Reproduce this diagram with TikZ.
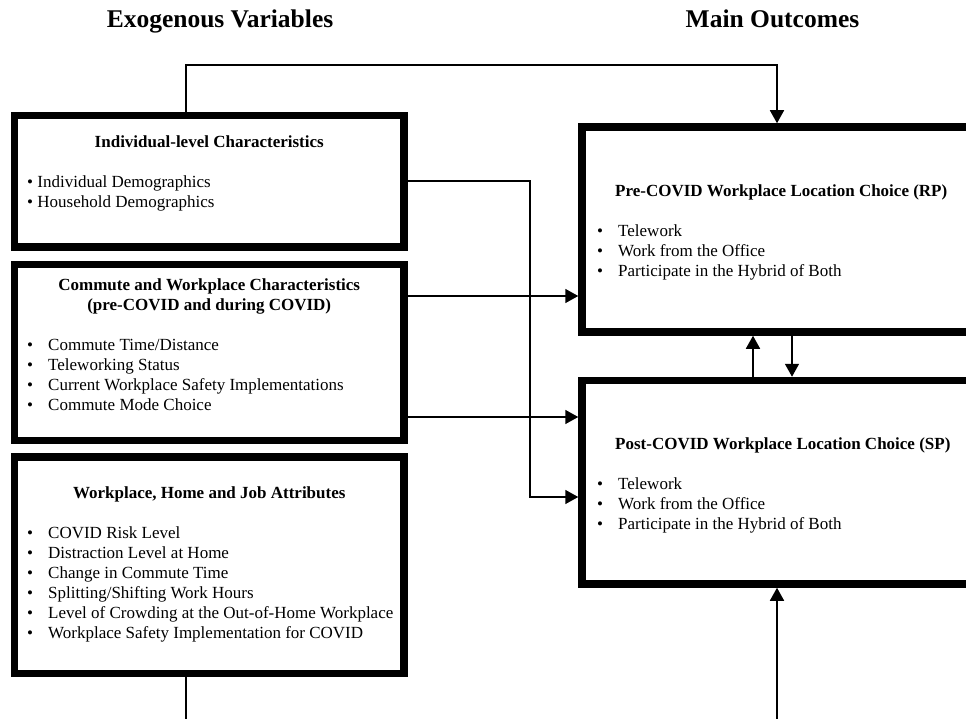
\documentclass[tikz,border=0pt]{standalone}
\usepackage{fontspec}
\setmainfont{Liberation Serif}
\usetikzlibrary{arrows.meta,calc}

\tikzset{
  block/.style={draw, line width=7.5pt, inner sep=0pt, minimum width=389.5pt},
  outcome/.style={draw, line width=7.5pt, inner sep=0pt, minimum width=520pt},
  link/.style={line width=1.6pt},
  arrow/.style={link, -{Triangle[length=13pt,width=14pt]}},
  title/.style={font=\fontsize{25.5}{30}\selectfont\bfseries, inner sep=0pt, anchor=base},
  head/.style={font=\fontsize{17}{20}\selectfont\bfseries, inner sep=0pt, align=center, anchor=north},
  items/.style={font=\fontsize{17}{20}\selectfont, inner sep=0pt, align=left, anchor=north west}
}
\newcommand{\bul}{\makebox[21pt][l]{\textbullet}}

\begin{document}
\begin{tikzpicture}[x=1pt, y=-1pt]

	\useasboundingbox (0,0) rectangle (966,719);
	\clip (0,0) rectangle (966,719);

	% titles

	\node[title] (exotitle) at (220,28) {Exogenous Variables};
	\node[title] (maintitle) at (772.5,28) {Main Outcomes};

	% exogenous blocks

	\node[block, minimum height=131.5pt] (indiv) at (209.25,181.25) {};
	\node[head] (indivhead) at (209.25,133) {\strut Individual-level Characteristics};
	\node[items] (indivlist) at (27,173) {\strut\textbullet\ Individual Demographics\\
		\strut\textbullet\ Household Demographics};

	\node[block, minimum height=176pt] (commute) at (209.25,352.5) {};
	\node[head] (commutehead) at (209.25,276) {\strut Commute and Workplace Characteristics\\
		\strut(pre-COVID and during COVID)};
	\node[items] (commutelist) at (27,336) {\strut\bul Commute Time/Distance\\
		\strut\bul Teleworking Status\\
		\strut\bul Current Workplace Safety Implementations\\
		\strut\bul Commute Mode Choice};

	\node[block, minimum height=216.5pt] (attrib) at (209.25,565.25) {};
	\node[head] (attribhead) at (209.25,484) {\strut Workplace, Home and Job Attributes};
	\node[items] (attriblist) at (27,524) {\strut\bul COVID Risk Level\\
		\strut\bul Distraction Level at Home\\
		\strut\bul Change in Commute Time\\
		\strut\bul Splitting/Shifting Work Hours\\
		\strut\bul Level of Crowding at the Out-of-Home Workplace\\
		\strut\bul Workplace Safety Implementation for COVID};

	% outcome blocks

	\node[outcome, minimum height=205pt] (precovid) at (842,229.5) {};
	\node[head, anchor=north west] (prehead) at (615,182) {\strut Pre-COVID Workplace Location Choice (RP)};
	\node[items] (prelist) at (597,222) {\strut\bul Telework\\
		\strut\bul Work from the Office\\
		\strut\bul Participate in the Hybrid of Both};

	\node[outcome, minimum height=203.5pt] (postcovid) at (842,482.25) {};
	\node[head, anchor=north west] (posthead) at (615,435) {\strut Post-COVID Workplace Location Choice (SP)};
	\node[items] (postlist) at (597,475) {\strut\bul Telework\\
		\strut\bul Work from the Office\\
		\strut\bul Participate in the Hybrid of Both};

	% connectors

	\coordinate (xtop) at (186,65);
	\coordinate (xtopr) at (777,65);
	\coordinate (bend) at (530,497);
	\coordinate (yrp) at (0,296);
	\coordinate (ysp) at (0,417);
	\coordinate (xup) at (753,0);
	\coordinate (xdown) at (792,0);
	\coordinate (foot1) at (186,719);
	\coordinate (foot2) at (777,719);

	\draw[arrow] (indiv.north -| xtop) -- (xtop) -| (precovid.north -| xtopr);
	\draw[arrow] (indiv.east) -| (bend) -- (bend -| postcovid.west);
	\draw[arrow] (commute.east |- yrp) -- (precovid.west |- yrp);
	\draw[arrow] (commute.east |- ysp) -- (postcovid.west |- ysp);
	\draw[arrow] (postcovid.north -| xup) -- (precovid.south -| xup);
	\draw[arrow] (precovid.south -| xdown) -- (postcovid.north -| xdown);
	\draw[link] (attrib.south -| foot1) -- (foot1);
	\draw[arrow] (foot2) -- (postcovid.south -| foot2);

\end{tikzpicture}
\end{document}
